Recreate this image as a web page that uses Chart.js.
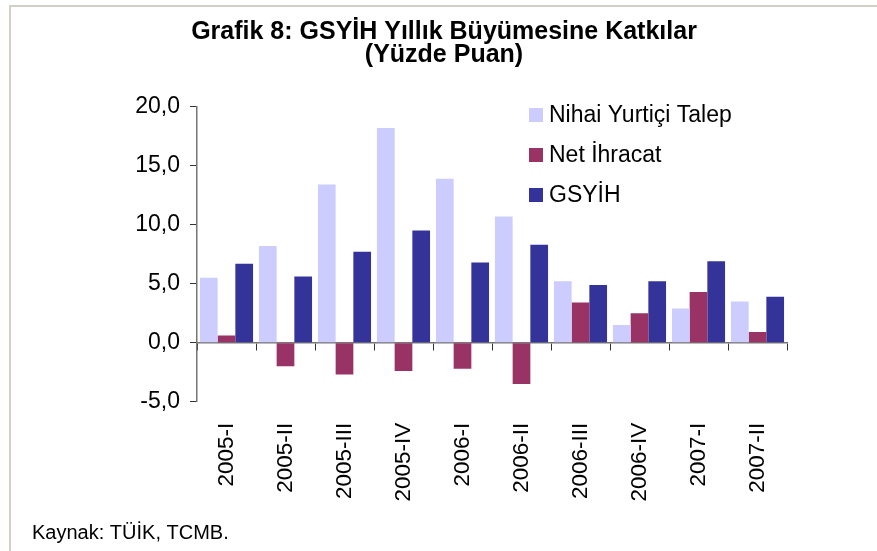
<!DOCTYPE html>
<html>
<head>
<meta charset="utf-8">
<script src="https://cdn.jsdelivr.net/npm/chart.js@4"></script>
<style>
  html, body { margin: 0; padding: 0; background: #fff; }
  #wrap { position: relative; width: 877px; height: 551px; overflow: hidden; }
  #frame { position: absolute; left: 9px; top: 5px; right: 0; bottom: 0;
           border-top: 2px solid #d4d0c8; border-left: 2px solid #d4d0c8; }
  canvas { position: absolute; left: 0; top: 0; }
</style>
</head>
<body>
<div id="wrap">
  <div id="frame"></div>
  <canvas id="chart" width="877" height="551"></canvas>
</div>
<script>
const quarters = ['2005-I', '2005-II', '2005-III', '2005-IV', '2006-I', '2006-II', '2006-III', '2006-IV', '2007-I', '2007-II'];
const nihaiTalep = [5.5, 8.2, 13.4, 18.2, 13.9, 10.7, 5.2, 1.5, 2.9, 3.5];
const netIhracat = [0.6, -2.0, -2.7, -2.4, -2.2, -3.5, 3.4, 2.5, 4.3, 0.9];
const gsyih = [6.7, 5.6, 7.7, 9.5, 6.8, 8.3, 4.9, 5.2, 6.9, 3.9];
const seriesNames = ['Nihai Yurtiçi Talep', 'Net İhracat', 'GSYİH'];
const seriesColors = ['#ccccff', '#993366', '#333399'];

const FONT = "'Liberation Sans', Arial, sans-serif";

// legend drawn in the upper right of the plot, like the original
const cornerLegend = {
  id: 'cornerLegend',
  afterDraw(chart) {
    const ctx = chart.ctx;
    ctx.save();
    ctx.font = '23px ' + FONT;
    ctx.textBaseline = 'middle';
    ctx.textAlign = 'left';
    chart.data.datasets.forEach((ds, i) => {
      const cy = 115 + i * 40;
      ctx.fillStyle = ds.backgroundColor;
      ctx.fillRect(529, cy - 7, 14, 14);
      ctx.fillStyle = '#000';
      ctx.fillText(ds.label, 549, cy + 1);
    });
    ctx.restore();
  }
};

new Chart(document.getElementById('chart'), {
  type: 'bar',
  data: {
    labels: quarters,
    datasets: [
      { label: seriesNames[0], data: nihaiTalep, backgroundColor: seriesColors[0] },
      { label: seriesNames[1], data: netIhracat, backgroundColor: seriesColors[1] },
      { label: seriesNames[2], data: gsyih, backgroundColor: seriesColors[2] }
    ]
  },
  options: {
    responsive: false,
    animation: false,
    layout: { padding: { left: 32, right: 21, top: 0, bottom: 6 } },
    datasets: { bar: { categoryPercentage: 0.9, barPercentage: 1.0 } },
    plugins: {
      legend: { display: false },
      tooltip: { enabled: false },
      title: {
        display: true,
        text: ['Grafik 8: GSYİH Yıllık Büyümesine Katkılar', '(Yüzde Puan)'],
        color: '#000',
        font: { family: FONT, size: 25, weight: 'bold', lineHeight: 0.92 },
        padding: { top: 21, bottom: 39.7 }
      },
      subtitle: {
        display: true,
        position: 'bottom',
        align: 'start',
        text: 'Kaynak: TÜİK, TCMB.',
        color: '#000',
        font: { family: FONT, size: 20, lineHeight: 1.15 },
        padding: 0
      }
    },
    scales: {
      x: {
        position: 'bottom',
        grid: { display: false, drawTicks: false },
        border: { display: false },
        ticks: {
          autoSkip: false, minRotation: 90, maxRotation: 90, padding: 21,
          color: '#000', font: { family: FONT, size: 22.5 }
        },
        afterFit: s => { s.height = 120.3; }
      },
      xZero: {
        type: 'category',
        labels: quarters,
        position: { y: 0 },
        offset: true,
        grid: { offset: true, drawOnChartArea: false, drawTicks: true, tickLength: 7, color: '#333', lineWidth: 1 },
        border: { display: true, color: '#777', width: 1.5 },
        ticks: { display: false }
      },
      y: {
        min: -5, max: 20,
        grid: { drawOnChartArea: false, tickLength: 7, color: '#333', lineWidth: 1 },
        border: { display: true, color: '#777', width: 1.5 },
        ticks: {
          stepSize: 5, padding: 10, color: '#000', font: { family: FONT, size: 23 },
          callback: v => v.toFixed(1).replace('.', ',')
        },
        afterFit: s => { s.width = 165; }
      },
      yRight: {
        axis: 'y',
        position: 'right',
        grid: { display: false },
        border: { display: false },
        ticks: { display: false },
        afterFit: s => { s.width = 69; }
      }
    }
  },
  plugins: [cornerLegend]
});
</script>
</body>
</html>
